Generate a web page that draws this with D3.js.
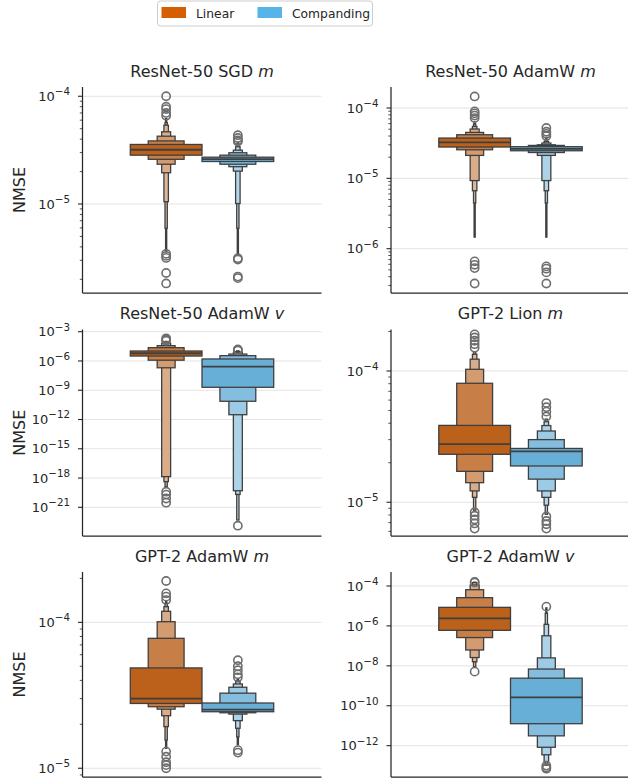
<!DOCTYPE html>
<html><head><meta charset="utf-8">
<script src="https://cdn.jsdelivr.net/npm/d3@7"></script>
<style>
body{margin:0;background:#fff}
svg{display:block}
text{font-family:"DejaVu Sans",sans-serif;fill:#262626}
</style>
</head><body><svg id="c" width="628" height="778"></svg>
<script>
// ---------------- data ----------------
const methods = ["Linear", "Companding"];
const legendColors = ["#d55e00", "#56b4e9"];
const boxColors = ["#bb611b", "#68afd7"];
const lightColors = ["#f4ebe4", "#e6f0f6"];

const panelTitles = ["ResNet-50 SGD", "ResNet-50 AdamW", "ResNet-50 AdamW", "GPT-2 Lion", "GPT-2 AdamW", "GPT-2 AdamW"];
const panelVars = ["m", "m", "v", "m", "m", "v"];
const yLabel = "NMSE";
const yTickExponents = [[-4, -5], [-4, -5, -6], [-3, -6, -9, -12, -15, -18, -21], [-4, -5], [-4, -5], [-4, -6, -8, -10, -12]];
const yLimExponents = [[-5.826, -3.914], [-6.63, -3.701], [-23.94, -2.775], [-5.257, -3.684], [-5.06, -3.655], [-13.57, -3.30]];

// letter values per panel: level 0 (quartiles) outward
const linearMedian = [3.19e-5, 3.25e-5, 6.2e-6, 2.77e-5, 3.0e-5, 2.4e-6];
const linearLower = [
  [2.84e-5, 2.60e-5, 2.34e-5, 1.95e-5, 1.05e-5, 5.96e-6, 3.6e-6],
  [2.79e-5, 2.55e-5, 2.12e-5, 9.3e-6, 6.67e-6, 4.47e-6, 1.46e-6],
  [3.2e-6, 1.2e-6, 2.0e-7, 1.4e-18, 4.3e-19, 1.3e-19],
  [2.32e-5, 1.72e-5, 1.41e-5, 1.22e-5, 1.09e-5, 8.7e-6],
  [2.78e-5, 2.64e-5, 2.54e-5, 2.29e-5, 1.93e-5, 1.56e-5, 1.37e-5],
  [6.0e-7, 2.6e-7, 6.2e-8, 2.6e-8, 1.6e-8, 9e-9]
];
const linearUpper = [
  [3.57e-5, 3.85e-5, 4.26e-5, 4.68e-5, 5.39e-5, 5.7e-5, 6.2e-5],
  [3.74e-5, 4.17e-5, 4.5e-5, 5.03e-5, 5.47e-5, 5.9e-5, 6.3e-5],
  [1.05e-5, 2.3e-5, 3.7e-5, 6.4e-5, 8.5e-5, 1.0e-4],
  [3.85e-5, 8.06e-5, 1.03e-4, 1.23e-4, 1.34e-4, 1.40e-4],
  [4.87e-5, 7.77e-5, 1.01e-4, 1.19e-4, 1.28e-4, 1.35e-4, 1.40e-4],
  [8.5e-6, 2.6e-5, 6.5e-5, 1.12e-4, 1.47e-4, 1.55e-4]
];
const linearOutliers = [
  [1.0e-4, 8.0e-5, 7.6e-5, 7.0e-5, 6.6e-5, 3.45e-6, 3.3e-6, 3.16e-6, 2.29e-6, 1.83e-6],
  [1.46e-4, 8.95e-5, 8.4e-5, 7.8e-5, 7.2e-5, 6.6e-7, 5.9e-7, 5.3e-7, 3.2e-7],
  [2.1e-4, 1.5e-4, 1.2e-4, 4e-20, 2e-20, 8e-21, 3e-21],
  [1.9e-4, 1.8e-4, 1.7e-4, 1.6e-4, 1.5e-4, 8.4e-6, 7.9e-6, 7.4e-6, 6.9e-6, 6.3e-6],
  [1.92e-4, 1.58e-4, 1.5e-4, 1.42e-4, 1.3e-5, 1.2e-5, 1.1e-5, 1.05e-5, 1.0e-5],
  [1.6e-4, 1.5e-4, 5.1e-9]
];

const compandingMedian = [2.61e-5, 2.63e-5, 2.6e-7, 2.44e-5, 2.52e-5, 2.6e-10];
const compandingLower = [
  [2.48e-5, 2.34e-5, 2.22e-5, 2.02e-5, 1.01e-5, 5.96e-6, 3.37e-6],
  [2.47e-5, 2.33e-5, 2.12e-5, 9.3e-6, 6.67e-6, 4.47e-6, 1.46e-6],
  [2.0e-9, 7.4e-11, 3.1e-12, 5e-20, 2.1e-20, 5e-23],
  [1.89e-5, 1.50e-5, 1.22e-5, 1.09e-5, 9.5e-6, 8.1e-6],
  [2.44e-5, 2.40e-5, 2.35e-5, 2.12e-5, 1.88e-5, 1.64e-5, 1.45e-5],
  [1.26e-11, 3.1e-12, 8.3e-13, 3.5e-13, 1.6e-13, 1.1e-13, 1.05e-13]
];
const compandingUpper = [
  [2.72e-5, 2.84e-5, 2.99e-5, 3.16e-5, 3.4e-5, 3.57e-5, 3.72e-5],
  [2.82e-5, 2.94e-5, 3.0e-5, 3.18e-5, 3.35e-5, 3.54e-5, 3.74e-5],
  [1.6e-6, 3.5e-6, 5.1e-6, 7.1e-6, 8.9e-6, 1.1e-5],
  [2.57e-5, 3.0e-5, 3.49e-5, 3.84e-5, 4.11e-5, 4.3e-5],
  [2.8e-5, 3.27e-5, 3.59e-5, 3.78e-5, 3.92e-5, 4.0e-5, 4.05e-5],
  [2.4e-9, 6.9e-9, 2.5e-8, 3.2e-7, 1.2e-6, 4.3e-6, 8e-6]
];
const compandingOutliers = [
  [4.35e-5, 4.1e-5, 3.9e-5, 3.8e-5, 3.14e-6, 3.05e-6, 2.12e-6, 2.05e-6],
  [5.2e-5, 4.6e-5, 4.3e-5, 4.0e-5, 5.6e-7, 5.2e-7, 4.6e-7, 3.2e-7],
  [1.5e-5, 1.3e-5, 1.2e-5, 1.3e-23],
  [5.7e-5, 5.3e-5, 4.9e-5, 4.5e-5, 7.8e-6, 7.2e-6, 6.8e-6, 6.3e-6],
  [5.5e-5, 5.0e-5, 4.7e-5, 4.4e-5, 4.2e-5, 1.33e-5, 1.28e-5],
  [9.2e-6, 1.0e-13, 8e-14, 7e-14]
];

// ---------------- layout ----------------
const svg = d3.select("#c");
const colLeft = [82.5, 391];
const colWidth = 239;
const rowTop = [87, 329.5, 572];
const rowBottom = [293, 536, 777];
const axisColor = "#262626";
const edgeColor = "#3f3f3f";
const gridColor = "#e3e3e3";
const levelT = [0, 0.22, 0.42, 0.55, 0.63, 0.7, 0.75, 0.78];

const series = [
  {median: linearMedian, lower: linearLower, upper: linearUpper, out: linearOutliers},
  {median: compandingMedian, lower: compandingLower, upper: compandingUpper, out: compandingOutliers}
];

for (let p = 0; p < 6; p++) {
  const col = p % 2, row = Math.floor(p / 2);
  const x0 = colLeft[col], x1 = x0 + colWidth;
  const y0 = rowTop[row], y1 = rowBottom[row];
  const g = svg.append("g");

  const y = d3.scaleLog()
    .domain([Math.pow(10, yLimExponents[p][0]), Math.pow(10, yLimExponents[p][1])])
    .range([y1, y0]);
  const x = d3.scaleBand().domain(methods)
    .range([x0 + 0.2 * colWidth, x0 + 0.8 * colWidth]).padding(0);

  const majors = yTickExponents[p].map(e => Math.pow(10, e));

  // grid
  g.selectAll("line.grid").data(majors).enter().append("line")
    .attr("x1", x0).attr("x2", x1)
    .attr("y1", d => y(d)).attr("y2", d => y(d))
    .attr("stroke", gridColor).attr("stroke-width", 1);

  // minor ticks
  const [lo, hi] = yLimExponents[p];
  if (hi - lo < 8) {
    const minors = [];
    for (let d = Math.floor(lo); d <= Math.ceil(hi); d++) {
      for (let m = 2; m <= 9; m++) {
        const v = m * Math.pow(10, d);
        const lv = Math.log10(v);
        if (lv >= lo && lv <= hi) minors.push(v);
      }
    }
    g.selectAll("line.minor").data(minors).enter().append("line")
      .attr("x1", x0 - 2.7).attr("x2", x0)
      .attr("y1", d => y(d)).attr("y2", d => y(d))
      .attr("stroke", axisColor).attr("stroke-width", 0.8);
  }

  // major ticks + labels
  g.selectAll("line.major").data(majors).enter().append("line")
    .attr("x1", x0 - 4.5).attr("x2", x0)
    .attr("y1", d => y(d)).attr("y2", d => y(d))
    .attr("stroke", axisColor).attr("stroke-width", 1.1);
  yTickExponents[p].forEach(e => {
    const t = g.append("text")
      .attr("x", x0 - 12.5).attr("y", y(Math.pow(10, e)) + 4.7)
      .attr("text-anchor", "end").attr("font-size", 13);
    t.append("tspan").text("10");
    t.append("tspan").attr("dy", -5.8).attr("font-size", 10.3).text("\u2212" + Math.abs(e));
  });

  // boxes
  series.forEach((s, si) => {
    const cx = x(methods[si]) + x.bandwidth() / 2;
    const full = x.bandwidth();
    const low = s.lower[p], up = s.upper[p];
    const k = low.length;
    const idx = d3.range(k).reverse();
    g.selectAll(null).data(idx).enter().append("rect")
      .attr("x", i => cx - full / Math.pow(2, i) / 2)
      .attr("width", i => full / Math.pow(2, i))
      .attr("y", i => y(up[i]))
      .attr("height", i => y(low[i]) - y(up[i]))
      .attr("fill", i => d3.interpolateRgb(boxColors[si], lightColors[si])(levelT[i]))
      .attr("stroke", edgeColor).attr("stroke-width", 1.3);
    g.append("line")
      .attr("x1", cx - full / 2).attr("x2", cx + full / 2)
      .attr("y1", y(s.median[p])).attr("y2", y(s.median[p]))
      .attr("stroke", edgeColor).attr("stroke-width", 1.8);
    g.selectAll(null).data(s.out[p]).enter().append("circle")
      .attr("cx", cx).attr("cy", d => y(d)).attr("r", 4.1)
      .attr("fill", "none").attr("stroke", "#6e6e6e").attr("stroke-width", 1.6);
  });

  // spines
  g.append("line").attr("x1", x0).attr("x2", x0).attr("y1", y0).attr("y2", y1)
    .attr("stroke", axisColor).attr("stroke-width", 1.25);
  g.append("line").attr("x1", x0).attr("x2", x1).attr("y1", y1).attr("y2", y1)
    .attr("stroke", axisColor).attr("stroke-width", 1.25);

  // title
  const tt = g.append("text").attr("x", x0 + colWidth / 2).attr("y", y0 - 10.5)
    .attr("text-anchor", "middle").attr("font-size", 16);
  tt.append("tspan").text(panelTitles[p] + " ");
  tt.append("tspan").attr("font-style", "italic").text(panelVars[p]);

  if (col === 0) {
    g.append("text").attr("transform", `translate(25,${(y0 + y1) / 2}) rotate(-90)`)
      .attr("text-anchor", "middle").attr("font-size", 16).text(yLabel);
  }
}

// legend
const lg = svg.append("g");
lg.append("rect").attr("x", 157.5).attr("y", 1).attr("width", 215).attr("height", 25)
  .attr("rx", 3).attr("fill", "#fff").attr("stroke", "#cccccc").attr("stroke-width", 1);
const legendX = [161.5, 257.5];
methods.forEach((m, i) => {
  lg.append("rect").attr("x", legendX[i]).attr("y", 7).attr("width", 24.5).attr("height", 11)
    .attr("fill", legendColors[i]);
  lg.append("text").attr("x", legendX[i] + 34.5).attr("y", 17.5).attr("font-size", 12.3).text(m);
});
</script>
</body></html>
